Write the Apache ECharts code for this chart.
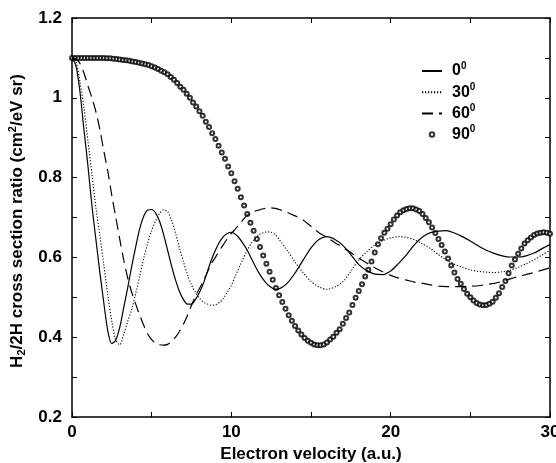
<!DOCTYPE html>
<html><head><meta charset="utf-8">
<script src="https://cdn.jsdelivr.net/npm/echarts@6/dist/echarts.min.js"></script>
<style>html,body{margin:0;padding:0;background:#fff}#c{width:556px;height:463px}</style>
</head><body><div id="c"></div>
<script>
// ---- data ----
const seriesNames = ['0', '30', '60', '90'];
const xTicks = [0, 10, 20, 30];
const yTicks = [0.2, 0.4, 0.6, 0.8, 1, 1.2];

// velocities at which the three line curves were read
const lineX = [0,0.25,0.5,0.75,1,1.25,1.5,1.75,2,2.25,2.5,2.75,3,3.25,3.5,3.75,4,4.25,4.5,4.75,
5,5.25,5.5,5.75,6,6.25,6.5,6.75,7,7.25,7.5,7.75,8,8.25,8.5,8.75,9,9.25,9.5,9.75,
10,10.25,10.5,10.75,11,11.25,11.5,11.75,12,12.25,12.5,12.75,
13,13.5,14,14.5,15,15.5,16,16.5,17,17.5,18,18.5,19,19.5,20,20.5,21,21.5,22,22.5,23,23.5,24,
24.5,25,25.5,26,26.5,27,27.5,28,28.5,29,29.5,30];

const deg0Y = [1.1,1.08,1.015,0.92,0.83,0.73,0.645,0.562,0.485,0.415,
0.384,0.393,0.425,0.475,0.525,0.578,0.627,0.672,0.703,0.719,
0.72,0.711,0.69,0.657,0.618,0.578,0.543,0.514,0.494,0.483,
0.483,0.495,0.512,0.535,0.565,0.594,0.618,0.638,0.652,0.66,
0.663,0.658,0.648,0.634,0.618,0.598,0.578,0.56,0.545,0.533,
0.525,0.52,
0.521,0.535,0.561,0.593,0.624,0.645,0.652,
0.645,0.63,0.607,0.582,0.567,0.558,0.557,0.566,
0.585,0.607,0.632,0.651,0.662,0.666,0.667,0.661,
0.652,0.641,0.629,0.618,0.61,0.604,0.601,0.601,
0.604,0.611,0.622,0.632];

const deg30Y = [1.1,1.09,1.04,0.975,0.892,0.808,0.725,0.655,0.58,0.505,
0.44,0.393,0.381,0.408,0.44,0.47,0.51,0.553,0.597,0.636,
0.667,0.692,0.71,0.719,0.715,0.693,0.66,0.623,0.588,0.556,
0.531,0.512,0.498,0.488,0.483,0.48,0.481,0.487,0.497,0.513,
0.53,0.553,0.575,0.598,0.618,0.635,0.648,0.657,0.662,0.664,
0.663,0.657,
0.645,0.618,0.588,0.562,0.54,0.526,0.52,
0.526,0.539,0.565,0.594,0.614,0.631,0.642,0.649,
0.652,0.65,0.644,0.634,0.622,0.607,0.593,0.583,
0.575,0.569,0.565,0.563,0.562,0.564,0.568,0.575,
0.584,0.594,0.606,0.618];

const deg60Y = [1.1,1.097,1.086,1.062,1.03,1.0,0.965,0.92,0.866,0.815,
0.755,0.7,0.645,0.593,0.548,0.512,0.483,0.455,0.43,0.408,
0.394,0.385,0.381,0.38,0.382,0.389,0.4,0.415,0.433,0.455,
0.48,0.503,0.522,0.541,0.563,0.585,0.6,0.617,0.632,0.647,
0.66,0.671,0.683,0.695,0.706,0.711,0.716,0.719,0.722,0.723,
0.724,0.723,
0.72,0.713,0.704,0.694,0.678,0.662,0.65,
0.637,0.625,0.612,0.598,0.586,0.574,0.564,0.555,
0.548,0.543,0.538,0.535,0.531,0.528,0.527,0.527,
0.527,0.528,0.529,0.532,0.535,0.54,0.546,0.552,
0.557,0.562,0.568,0.574];

// 90 deg: one marker every 0.2 a.u. from 0 to 30
const deg90Step = 0.2;
const deg90Y = [1.100,1.100,1.100,1.100,1.100,1.100,1.100,1.100,1.100,1.100,
1.100,1.099,1.099,1.098,1.097,1.096,1.095,1.094,1.093,1.091,
1.090,1.088,1.086,1.084,1.082,1.079,1.076,1.072,1.068,1.064,
1.059,1.052,1.045,1.037,1.028,1.020,1.010,1.000,0.988,0.978,
0.966,0.955,0.940,0.927,0.911,0.897,0.880,0.863,0.847,0.828,
0.811,0.791,0.772,0.751,0.730,0.709,0.687,0.667,0.646,0.626,
0.605,0.584,0.564,0.544,0.523,0.505,0.488,0.471,0.455,0.441,
0.428,0.417,0.407,0.398,0.391,0.386,0.382,0.380,0.380,0.382,
0.387,0.394,0.401,0.411,0.420,0.434,0.448,0.462,0.481,0.499,
0.516,0.533,0.552,0.569,0.590,0.612,0.633,0.648,0.662,0.672,
0.683,0.695,0.705,0.713,0.718,0.721,0.723,0.723,0.720,0.716,
0.709,0.699,0.688,0.675,0.661,0.646,0.631,0.615,0.597,0.580,
0.562,0.546,0.534,0.521,0.509,0.500,0.492,0.486,0.482,0.480,
0.481,0.484,0.489,0.499,0.510,0.526,0.541,0.560,0.580,0.595,
0.609,0.622,0.635,0.643,0.650,0.656,0.660,0.662,0.663,0.662,0.659];

// ---- build ----
const pairs = (xs, ys) => xs.map((x, i) => [x, ys[i]]);
const d90 = deg90Y.map((y, i) => [+(i * deg90Step).toFixed(2), y]);
const FONT = '"Liberation Sans", Arial, Helvetica, sans-serif';

const chart = echarts.init(document.getElementById('c'), null, {renderer: 'canvas'});
const axisLine = {show: true, onZero: false, lineStyle: {color: '#000', width: 1.5}};
const tickIn = {show: true, inside: true, length: 5, lineStyle: {color: '#000', width: 1}};
const baseX = {type: 'value', min: 0, max: 30, interval: 5, splitLine: {show: false}, axisLine, axisTick: tickIn};
const baseY = {type: 'value', min: 0.2, max: 1.2, interval: 0.1, splitLine: {show: false}, axisLine, axisTick: tickIn};
const txt = {fontFamily: FONT, fontWeight: 'bold', color: '#000'};
const hideSym = {opacity: 0};

chart.setOption({
  animation: false,
  backgroundColor: '#fff',
  grid: {left: 72, right: 6, top: 18, bottom: 46, containLabel: false, outerBoundsMode: 'none'},
  legend: {
    left: 421, top: 61, padding: 0, orient: 'vertical', itemWidth: 20, itemHeight: 4.5, itemGap: 3.2,
    data: [
      {name: seriesNames[0], itemStyle: hideSym},
      {name: seriesNames[1], itemStyle: hideSym},
      {name: seriesNames[2], itemStyle: hideSym},
      {name: seriesNames[3]}
    ],
    formatter: n => '{n|' + n + '}{s|0}',
    textStyle: {
      padding: [0, 0, 0, 5],
      rich: {
        n: Object.assign({fontSize: 16, lineHeight: 20}, txt),
        s: Object.assign({fontSize: 10, lineHeight: 10, verticalAlign: 'top'}, txt)
      }
    }
  },
  xAxis: [
    Object.assign({}, baseX, {
      position: 'bottom',
      name: 'Electron velocity (a.u.)', nameLocation: 'middle', nameGap: 27,
      nameTextStyle: Object.assign({fontSize: 17}, txt),
      axisLabel: Object.assign({show: true, margin: 7, fontSize: 17,
        formatter: v => xTicks.includes(v) ? String(v) : ''}, txt)
    }),
    Object.assign({}, baseX, {position: 'top', axisLabel: {show: false}})
  ],
  yAxis: [
    Object.assign({}, baseY, {
      position: 'left',
      name: '{a|H}{b|2}{a|/2H cross section ratio (cm}{c|2}{a|/eV sr)}',
      nameLocation: 'middle', nameGap: 39,
      nameTextStyle: {
        padding: [0, 7, 0, 0],
        rich: {
          a: Object.assign({fontSize: 17, lineHeight: 20}, txt),
          b: Object.assign({fontSize: 11, lineHeight: 10, verticalAlign: 'bottom'}, txt),
          c: Object.assign({fontSize: 11, lineHeight: 10, verticalAlign: 'top'}, txt)
        }
      },
      axisLabel: Object.assign({show: true, margin: 10, fontSize: 17,
        formatter: v => {
          const r = Math.round(v * 10) / 10;
          return yTicks.some(t => Math.abs(t - r) < 1e-6) ? String(r) : '';
        }}, txt)
    }),
    Object.assign({}, baseY, {position: 'right', axisLabel: {show: false}})
  ],
  series: [
    {name: seriesNames[0], type: 'line', data: pairs(lineX, deg0Y), smooth: 0.3, showSymbol: false, symbol: 'none',
      lineStyle: {color: '#000', width: 1.2, type: 'solid'}, itemStyle: {color: '#000'}},
    {name: seriesNames[1], type: 'line', data: pairs(lineX, deg30Y), smooth: 0.3, showSymbol: false, symbol: 'none',
      lineStyle: {color: '#000', width: 1.1, type: [1.2, 1.8]}, itemStyle: {color: '#000'}},
    {name: seriesNames[2], type: 'line', data: pairs(lineX, deg60Y), smooth: 0.3, showSymbol: false, symbol: 'none',
      lineStyle: {color: '#000', width: 1.2, type: [11, 6]}, itemStyle: {color: '#000'}},
    {name: seriesNames[3], type: 'scatter', data: d90, symbol: 'emptyCircle', symbolSize: 4, clip: false,
      itemStyle: {color: '#000', borderColor: '#000', borderWidth: 0.9}}
  ]
});
</script></body></html>
